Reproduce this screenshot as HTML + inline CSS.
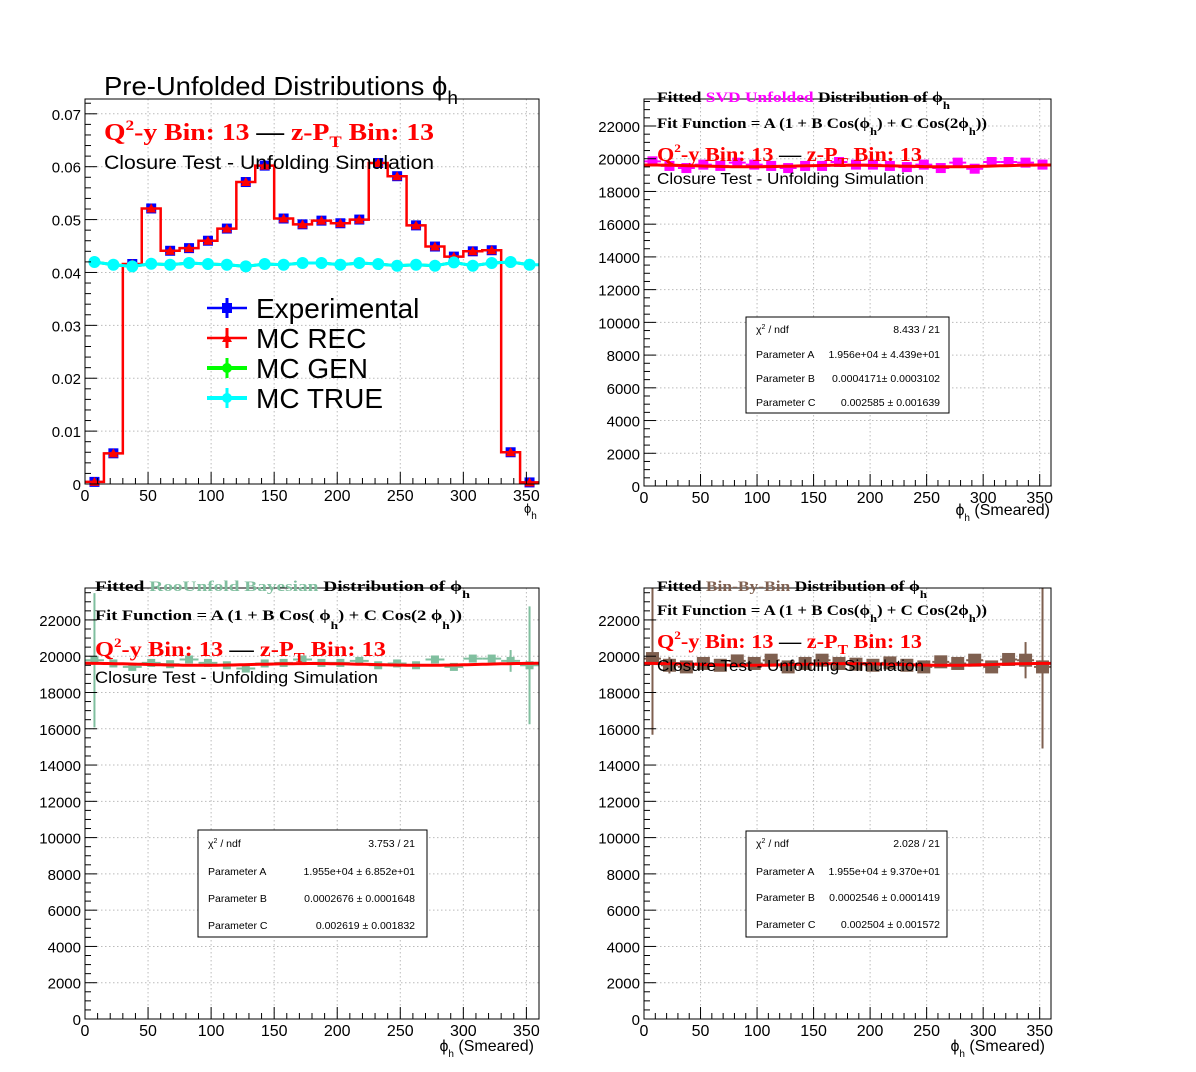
<!DOCTYPE html>
<html><head><meta charset="utf-8"><style>
html,body{margin:0;padding:0;background:#fff;}
svg{display:block;}
.sans{font-family:"Liberation Sans",sans-serif;}
.serif{font-family:"Liberation Serif",serif;font-weight:bold;}
</style></head>
<body>
<svg id="c" width="1196" height="1072" viewBox="0 0 1196 1072" xmlns="http://www.w3.org/2000/svg">
<rect x="0" y="0" width="1196" height="1072" fill="#fff"/>
</svg>
<script>
// ---- data ----
const binCenters = [7.5,22.5,37.5,52.5,67.5,82.5,97.5,112.5,127.5,142.5,157.5,172.5,187.5,202.5,217.5,232.5,247.5,262.5,277.5,292.5,307.5,322.5,337.5,352.5];
const expValues = [0.0004,0.0058,0.0416,0.0521,0.0441,0.0446,0.0460,0.0483,0.0571,0.0602,0.0502,0.0491,0.0498,0.0493,0.0500,0.0607,0.0582,0.0489,0.0449,0.0430,0.0440,0.0442,0.0060,0.0003];
const recValues = [0.0004,0.0058,0.0416,0.0521,0.0441,0.0446,0.0460,0.0483,0.0571,0.0602,0.0502,0.0491,0.0498,0.0493,0.0500,0.0607,0.0582,0.0489,0.0449,0.0430,0.0440,0.0442,0.0060,0.0003];
const trueValues = [0.04197,0.04146,0.04115,0.04165,0.04146,0.04178,0.04159,0.04146,0.04115,0.04159,0.04146,0.04178,0.04178,0.04146,0.04178,0.04159,0.04127,0.04146,0.04127,0.04190,0.04127,0.04178,0.04197,0.04146];
const svdValues = [19840,19560,19430,19640,19560,19760,19640,19560,19430,19560,19560,19800,19640,19640,19560,19490,19640,19430,19760,19390,19800,19800,19760,19640];
const svdErrors = [250,200,200,200,200,200,200,200,200,200,200,200,200,200,200,200,200,200,200,200,200,200,250,300];
const bayValues = [19780,19600,19410,19630,19560,19820,19630,19500,19320,19600,19630,19820,19630,19630,19740,19500,19600,19500,19820,19410,19870,19870,19740,19500];
const bayErrors = [3700,150,150,150,150,150,150,150,150,150,150,150,150,150,150,150,150,150,150,150,150,150,600,3250];
const bbbValues = [19870,19500,19410,19600,19500,19740,19600,19780,19410,19600,19780,19600,19560,19500,19630,19500,19410,19690,19600,19780,19410,19820,19780,19410];
const bbbErrors = [4200,450,200,200,200,200,200,200,200,200,200,200,200,200,200,200,200,200,200,200,200,250,1000,4500];
const fitSVD = [19560,0.0004171,0.002585];
const fitBay = [19550,0.0002676,0.002619];
const fitBbb = [19550,0.0002546,0.002504];
const xTicks = [0,50,100,150,200,250,300,350];
const yTicksTop = [0,0.01,0.02,0.03,0.04,0.05,0.06,0.07];
const yTickLabelsTop = ["0","0.01","0.02","0.03","0.04","0.05","0.06","0.07"];
const yTicksCnt = [0,2000,4000,6000,8000,10000,12000,14000,16000,18000,20000,22000];

const NS="http://www.w3.org/2000/svg";
const svg=document.getElementById('c');
function el(tag,attrs,parent){const e=document.createElementNS(NS,tag);for(const k in attrs)e.setAttribute(k,attrs[k]);(parent||svg).appendChild(e);return e;}
function txt(s,attrs,parent){const e=el('text',attrs,parent);e.innerHTML=s;return e;}
function fitW(e,w){const bb=e.getBBox();if(bb.width>0){e.setAttribute('textLength',w);e.setAttribute('lengthAdjust','spacingAndGlyphs');}}

function makePad(name,x0,x1,y0,y1,ymax,minorY,yt,ytl){
  const g=el('g',{});
  
  
  const sx=v=>x0+(v/360)*(x1-x0);
  const sy=v=>y1-(v/ymax)*(y1-y0);
  const grid=el('g',{stroke:'#bbb','stroke-width':1,'stroke-dasharray':'1.5,2.5'},g);
  
  
  xTicks.forEach(t=>{if(t>0)el('line',{x1:sx(t),x2:sx(t),y1:y0,y2:y1},grid);});
  yt.forEach(t=>{if(t>0)el('line',{x1:x0,x2:x1,y1:sy(t),y2:sy(t)},grid);});
  return {g,sx,sy,x0,x1,y0,y1,ymax,minorY,yt,ytl,name};
}
function drawAxes(p){
  const {g,sx,sy,x0,x1,y0,y1}=p;
  const ax=el('g',{stroke:'#000','stroke-width':1},g);
  
  
  for(let v=0;v<=360;v+=10){const L=(v%50===0)?12:6;el('line',{x1:sx(v),x2:sx(v),y1:y1,y2:y1-L},ax);}
  for(let v=0;v<=p.ymax+1e-9;v+=p.minorY){const major=p.yt.some(t=>Math.abs(t-v)<p.minorY*0.01);el('line',{x1:x0,x2:x0+(major?12:6),y1:sy(v),y2:sy(v)},ax);}
  el('rect',{x:x0,y:y0,width:x1-x0,height:y1-y0,fill:'none',stroke:'#000','stroke-width':1},g);
  const xl=el('g',{class:'sans','font-size':16,'text-anchor':'middle'},g);
  
  
  xTicks.forEach(t=>txt(String(t),{x:sx(t),y:y1+17},xl));
  const yl=el('g',{class:'sans','font-size':15,'text-anchor':'end'},g);
  
  
  p.yt.forEach((t,i)=>txt(p.ytl?p.ytl[i]:String(t),{x:x0-4,y:sy(t)+6},yl));
}
function fitCurve(p,par){
  let d='';
  for(let v=0;v<=360;v+=3){const r=v*Math.PI/180;const f=par[0]*(1+par[1]*Math.cos(r)+par[2]*Math.cos(2*r));d+=(v?'L':'M')+p.sx(v).toFixed(1)+','+p.sy(f).toFixed(1);}
  const e=el('path',{d,fill:'none',stroke:'#f00','stroke-width':3},p.g);
  
  
}
function errPoints(p,vals,errs,color,ms,name){
  const g=el('g',{stroke:color,fill:color,'stroke-width':2},p.g);
  
  
  vals.forEach((v,i)=>{
    const c=binCenters[i];
    const cx=p.sx(c),cy=p.sy(v);
    el('line',{x1:p.sx(c-7.5),x2:p.sx(c+7.5),y1:cy,y2:cy},g);
    const top=Math.max(p.y0,p.sy(v+errs[i])),bot=Math.min(p.y1,p.sy(v-errs[i]));
    el('line',{x1:cx,x2:cx,y1:top,y2:bot},g);
    const r=el('rect',{x:cx-ms/2,y:cy-ms/2,width:ms,height:ms,stroke:'none'},g);
    
    
  });
}
function statBox(name,x,y,w,h,rows,rowsY,valX){
  const g=el('g',{class:'sans','font-size':10.5},svg);
  
  
  el('rect',{x,y,width:w,height:h,fill:'#fff',stroke:'#000','stroke-width':1},g);
  rows.forEach((r,i)=>{txt(r[0],{x:x+10,y:rowsY[i]+4},g);txt(r[1],{x:valX,y:rowsY[i]+4,'text-anchor':'end'},g);});
}
const PHI='&#981;';

// ===== Pad 1 =====
const p1=makePad('pre-unfolded-pad',85,539,99,484,0.0728,0.002,yTicksTop,yTickLabelsTop);
{
  const {g,sx,sy}=p1;
  const gg=el('g',{stroke:'#0f0',fill:'#0f0','stroke-width':3},g);
  
  
  let d='';trueValues.forEach((v,i)=>{d+=(i?'L':'M')+sx(binCenters[i])+','+sy(v);});
  el('path',{d,fill:'none'},gg);
  const eg=el('g',{fill:'#00f',stroke:'#00f','stroke-width':2},g);
  
  
  expValues.forEach((v,i)=>{const cx=sx(binCenters[i]),cy=sy(v);el('rect',{x:cx-5,y:cy-5,width:10,height:10,stroke:'none'},eg);el('line',{x1:sx(binCenters[i]-7.5),x2:sx(binCenters[i]+7.5),y1:cy,y2:cy},eg);});
  let s='M'+sx(0)+','+sy(recValues[0]);
  recValues.forEach((v,i)=>{const a=binCenters[i]-7.5,b=binCenters[i]+7.5;s+='L'+sx(a)+','+sy(v)+'L'+sx(b)+','+sy(v);});
  const rh=el('path',{d:s,fill:'none',stroke:'#f00','stroke-width':2.5},g);
  
  
  const rg=el('g',{fill:'#f00',stroke:'#f00','stroke-width':2},g);
  
  
  recValues.forEach((v,i)=>{const cx=sx(binCenters[i]),cy=sy(v);el('path',{d:`M${cx-5},${cy+4}L${cx},${cy-5}L${cx+5},${cy+4}Z`,stroke:'none'},rg);});
  const tg=el('g',{stroke:'#0ff',fill:'#0ff','stroke-width':3},g);
  
  
  d='';trueValues.forEach((v,i)=>{d+=(i?'L':'M')+sx(binCenters[i])+','+sy(v);});
  el('path',{d:d+'L'+sx(360)+','+sy(trueValues[23]),fill:'none'},tg);
  trueValues.forEach((v,i)=>el('circle',{cx:sx(binCenters[i]),cy:sy(v),r:6,stroke:'none'},tg));
}
drawAxes(p1);
fitW(txt('Pre-Unfolded Distributions '+PHI+'<tspan font-size="18" dy="9">h</tspan>',{x:104,y:95,class:'sans','font-size':26,}),354);
fitW(txt('Q<tspan font-size="15" dy="-10">2</tspan><tspan dy="10">-y Bin: 13 </tspan><tspan fill="#000"> &#8212; </tspan> z-P<tspan font-size="16" dy="7">T</tspan><tspan dy="-7"> Bin: 13</tspan>',{x:104,y:140,class:'serif','font-size':24,fill:'#f00',}),330);
fitW(txt('Closure Test - Unfolding Simulation',{x:104,y:169,class:'sans','font-size':19,}),330);
txt(PHI+'<tspan font-size="10" dy="6">h</tspan>',{x:524,y:513,class:'sans','font-size':13,});
{
  const lg=el('g',{},svg);
  
  
  const items=[['Experimental','#00f'],['MC REC','#f00'],['MC GEN','#0f0'],['MC TRUE','#0ff']];
  items.forEach((it,i)=>{
    const y=308+i*30;
    const e=el('g',{stroke:it[1],fill:it[1],'stroke-width':i>=2?4:2.5},lg);
    
    
    el('line',{x1:207,x2:247,y1:y,y2:y},e);
    el('line',{x1:227,x2:227,y1:y-10,y2:y+10,'stroke-width':3},e);
    if(i===0)el('rect',{x:222,y:y-5,width:10,height:10,stroke:'none'},e);
    else if(i===1)el('path',{d:`M222,${y+4}L227,${y-5}L232,${y+4}Z`,stroke:'none'},e);
    else el('circle',{cx:227,cy:y,r:5,stroke:'none'},e);
    txt(it[0],{x:256,y:y+10,class:'sans','font-size':28,fill:'#000',stroke:'none'},e);
  });
}

// ===== Pad 2 SVD =====
const p2=makePad('svd-unfolded-pad',644,1051,99,486,23650,500,yTicksCnt,null);
errPoints(p2,svdValues,svdErrors,'#f0f',10,'svd-unfolded-series');
fitCurve(p2,fitSVD);
fitW(txt('Fitted  <tspan fill="#f0f">SVD Unfolded </tspan>Distribution of  '+PHI+'<tspan font-size="11" dy="7">h</tspan>',{x:657,y:102,class:'serif','font-size':15,}),293);
drawAxes(p2);
fitW(txt('Fit Function = A (1 + B Cos('+PHI+'<tspan font-size="11" dy="7">h</tspan><tspan dy="-7">) + C Cos(2'+PHI+'</tspan><tspan font-size="11" dy="7">h</tspan><tspan dy="-7">))</tspan>',{x:657,y:128,class:'serif','font-size':15,}),330);
fitW(txt('Q<tspan font-size="12" dy="-9">2</tspan><tspan dy="9">-y Bin: 13 </tspan><tspan fill="#000"> &#8212; </tspan> z-P<tspan font-size="14" dy="6">T</tspan><tspan dy="-6"> Bin: 13</tspan>',{x:657,y:161,class:'serif','font-size':20,fill:'#f00',}),265);
fitW(txt('Closure Test - Unfolding Simulation',{x:657,y:184,class:'sans','font-size':16,}),267);
txt(PHI+'<tspan font-size="10" dy="6">h</tspan><tspan dy="-6"> (Smeared)</tspan>',{x:1050,y:515,'text-anchor':'end',class:'sans','font-size':16,});
statBox('stats-box-svd',746,317,203,96,[['&#967;<tspan font-size="7" dy="-4">2</tspan><tspan dy="4"> / ndf</tspan>','8.433 / 21'],['Parameter A','1.956e+04 &#177; 4.439e+01'],['Parameter B','0.0004171&#177; 0.0003102'],['Parameter C','0.002585 &#177; 0.001639']],[329,354,378,402],940);

// ===== Pad 3 Bayesian =====
const p3=makePad('bayesian-unfolded-pad',85,539,588,1019,23760,500,yTicksCnt,null);
errPoints(p3,bayValues,bayErrors,'#80bf9f',8,'bayesian-unfolded-series');
fitCurve(p3,fitBay);
fitW(txt('Fitted <tspan fill="#80bf9f">  RooUnfold Bayesian  </tspan> Distribution of    '+PHI+'<tspan font-size="11" dy="7">h</tspan>',{x:95,y:591,class:'serif','font-size':15,'xml:space':'preserve'}),375);
drawAxes(p3);
fitW(txt('Fit Function = A (1 + B Cos(   '+PHI+'<tspan font-size="11" dy="9">h</tspan><tspan dy="-9">) + C Cos(2 '+PHI+'</tspan><tspan font-size="11" dy="9">h</tspan><tspan dy="-9">))</tspan>',{x:95,y:620,class:'serif','font-size':15,'xml:space':'preserve'}),367);
fitW(txt('Q<tspan font-size="13" dy="-9">2</tspan><tspan dy="9">-y Bin: 13 </tspan><tspan fill="#000"> &#8212; </tspan> z-P<tspan font-size="14" dy="6">T</tspan><tspan dy="-6"> Bin: 13</tspan>',{x:95,y:656,class:'serif','font-size':21,fill:'#f00',}),291);
fitW(txt('Closure Test - Unfolding Simulation',{x:95,y:683,class:'sans','font-size':17,}),283);
txt(PHI+'<tspan font-size="10" dy="6">h</tspan><tspan dy="-6"> (Smeared)</tspan>',{x:534,y:1051,'text-anchor':'end',class:'sans','font-size':16,});
statBox('stats-box-bayesian',198,830,229,107,[['&#967;<tspan font-size="7" dy="-4">2</tspan><tspan dy="4"> / ndf</tspan>','3.753 / 21'],['Parameter A','1.955e+04 &#177; 6.852e+01'],['Parameter B','0.0002676 &#177; 0.0001648'],['Parameter C','0.002619 &#177; 0.001832']],[843,871,898,925],415);

// ===== Pad 4 Bin-by-bin =====
const p4=makePad('bin-by-bin-pad',644,1051,588,1019,23760,500,yTicksCnt,null);
errPoints(p4,bbbValues,bbbErrors,'#7f6050',13,'bin-by-bin-series');
fitCurve(p4,fitBbb);
fitW(txt('Fitted  <tspan fill="#7f6050">Bin-By-Bin </tspan>Distribution of  '+PHI+'<tspan font-size="11" dy="7">h</tspan>',{x:657,y:591,class:'serif','font-size':15,'xml:space':'preserve'}),270);
drawAxes(p4);
fitW(txt('Fit Function = A (1 + B Cos('+PHI+'<tspan font-size="11" dy="7">h</tspan><tspan dy="-7">) + C Cos(2'+PHI+'</tspan><tspan font-size="11" dy="7">h</tspan><tspan dy="-7">))</tspan>',{x:657,y:615,class:'serif','font-size':15,}),330);
fitW(txt('Q<tspan font-size="12" dy="-9">2</tspan><tspan dy="9">-y Bin: 13 </tspan><tspan fill="#000"> &#8212; </tspan> z-P<tspan font-size="14" dy="6">T</tspan><tspan dy="-6"> Bin: 13</tspan>',{x:657,y:648,class:'serif','font-size':20,fill:'#f00',}),265);
fitW(txt('Closure Test - Unfolding Simulation',{x:657,y:671,class:'sans','font-size':16,}),267);
txt(PHI+'<tspan font-size="10" dy="6">h</tspan><tspan dy="-6"> (Smeared)</tspan>',{x:1045,y:1051,'text-anchor':'end',class:'sans','font-size':16,});
statBox('stats-box-bin-by-bin',746,831,201,106,[['&#967;<tspan font-size="7" dy="-4">2</tspan><tspan dy="4"> / ndf</tspan>','2.028 / 21'],['Parameter A','1.955e+04 &#177; 9.370e+01'],['Parameter B','0.0002546 &#177; 0.0001419'],['Parameter C','0.002504 &#177; 0.001572']],[843,871,897,924],940);
</script>
</body></html>
